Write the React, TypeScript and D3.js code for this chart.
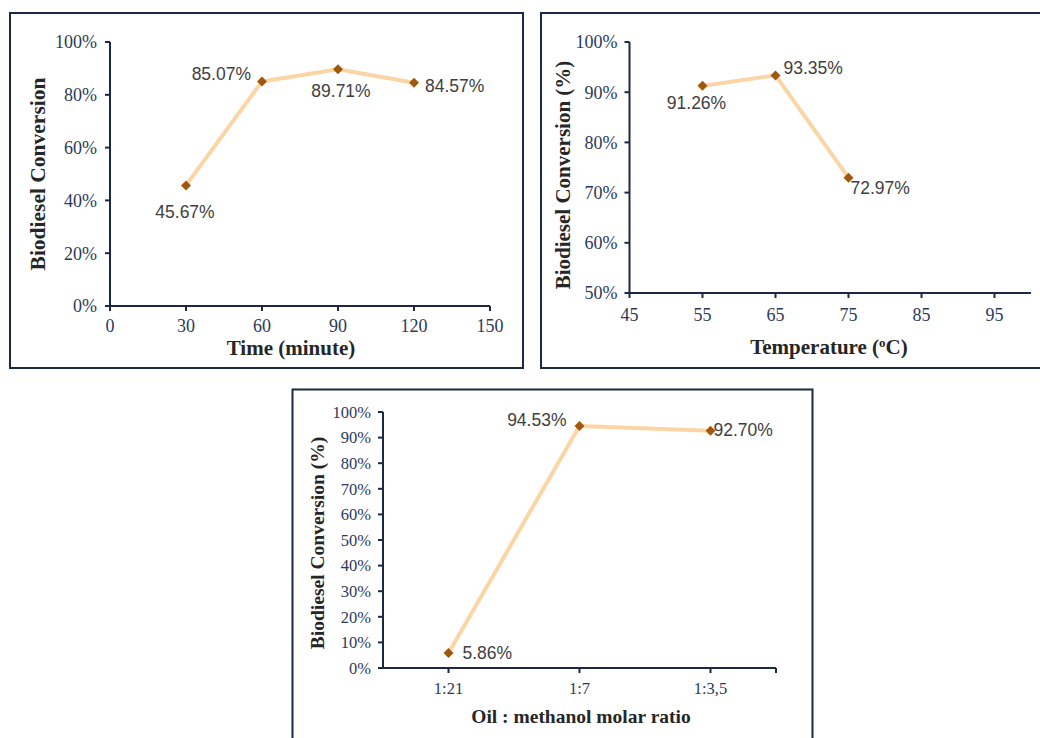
import React from "react";
import * as d3 from "d3";

// ---- Data ----
const timeX = [30, 60, 90, 120];
const timeY = [0.4567, 0.8507, 0.8971, 0.8457];
const timeLabels = ["45.67%", "85.07%", "89.71%", "84.57%"];
const timeTicks = [0, 30, 60, 90, 120, 150];
const timeYTicks = [0, 0.2, 0.4, 0.6, 0.8, 1.0];

const tempX = [55, 65, 75];
const tempY = [0.9126, 0.9335, 0.7297];
const tempLabels = ["91.26%", "93.35%", "72.97%"];
const tempTicks = [45, 55, 65, 75, 85, 95];
const tempYTicks = [0.5, 0.6, 0.7, 0.8, 0.9, 1.0];

const ratioCats = ["1:21", "1:7", "1:3,5"];
const ratioY = [0.0586, 0.9453, 0.927];
const ratioLabels = ["5.86%", "94.53%", "92.70%"];
const ratioYTicks = [0, 0.1, 0.2, 0.3, 0.4, 0.5, 0.6, 0.7, 0.8, 0.9, 1.0];

// ---- label placement (style, not data) ----
const timeLabelPos = [
  { anchor: "middle", dx: -1, dy: 33 },
  { anchor: "end", dx: -11, dy: -1 },
  { anchor: "middle", dx: 3, dy: 28 },
  { anchor: "start", dx: 11, dy: 9 },
];
const tempLabelPos = [
  { anchor: "middle", dx: -6, dy: 23 },
  { anchor: "start", dx: 8, dy: -1 },
  { anchor: "start", dx: 2, dy: 16 },
];
const ratioLabelPos = [
  { anchor: "start", dx: 14, dy: 6 },
  { anchor: "end", dx: -13, dy: 0 },
  { anchor: "start", dx: 3, dy: 5 },
];

const AXIS = "#1b2947";
const TICKTXT = "#2b3a58";
const TITLE = "#262626";
const LINE = "#fbd5a5";
const MARK = "#a2580c";
const SERIF = "'Liberation Serif', 'Times New Roman', serif";
const SANS = "'Liberation Sans', Arial, sans-serif";
const pct = d3.format(".0%");

type LP = { anchor: string; dx: number; dy: number };

function Diamond({ x, y }: { x: number; y: number }) {
  const s = 5;
  return (
    <path
      d={`M${x},${y - s}L${x + s},${y}L${x},${y + s}L${x - s},${y}Z`}
      fill={MARK}
    />
  );
}

function Series({
  pts,
  labels,
  pos,
  fontSize,
}: {
  pts: [number, number][];
  labels: string[];
  pos: LP[];
  fontSize: number;
}) {
  const line = d3.line<[number, number]>().x((d) => d[0]).y((d) => d[1]);
  return (
    <g>
      <path d={line(pts) || ""} fill="none" stroke={LINE} strokeWidth={4} strokeLinejoin="round" />
      {pts.map((p, i) => (
        <Diamond key={"m" + i} x={p[0]} y={p[1]} />
      ))}
      {pts.map((p, i) => (
        <text
          key={"l" + i}
          x={p[0] + pos[i].dx}
          y={p[1] + pos[i].dy}
          textAnchor={pos[i].anchor as any}
          fontFamily={SANS}
          fontSize={fontSize}
          fill="#404040"
        >
          {labels[i]}
        </text>
      ))}
    </g>
  );
}

function YAxis({
  y,
  ticks,
  x0,
  fontSize,
  labelGap,
}: {
  y: d3.ScaleLinear<number, number>;
  ticks: number[];
  x0: number;
  fontSize: number;
  labelGap: number;
}) {
  const [r0, r1] = y.range();
  return (
    <g>
      <line x1={x0} x2={x0} y1={r0 + 1} y2={r1} stroke={AXIS} strokeWidth={2} />
      {ticks.map((t) => (
        <g key={t}>
          <line x1={x0 - 5} x2={x0} y1={y(t)} y2={y(t)} stroke={AXIS} strokeWidth={2} />
          <text
            x={x0 - labelGap}
            y={y(t)}
            dy="0.35em"
            textAnchor="end"
            fontFamily={SERIF}
            fontSize={fontSize}
            fill={TICKTXT}
          >
            {pct(t)}
          </text>
        </g>
      ))}
    </g>
  );
}

function XAxisLine({
  x0,
  x1,
  y0,
  tickXs,
  labels,
  labelY,
  fontSize,
}: {
  x0: number;
  x1: number;
  y0: number;
  tickXs: number[];
  labels: { x: number; t: string }[];
  labelY: number;
  fontSize: number;
}) {
  return (
    <g>
      <line x1={x0 - 1} x2={x1} y1={y0} y2={y0} stroke={AXIS} strokeWidth={2} />
      {tickXs.map((tx, i) => (
        <line key={i} x1={tx} x2={tx} y1={y0} y2={y0 + 5} stroke={AXIS} strokeWidth={2} />
      ))}
      {labels.map((l, i) => (
        <text
          key={i}
          x={l.x}
          y={labelY}
          textAnchor="middle"
          fontFamily={SERIF}
          fontSize={fontSize}
          fill={TICKTXT}
        >
          {l.t}
        </text>
      ))}
    </g>
  );
}

function YTitle({ x, y, text, fontSize }: { x: number; y: number; text: string; fontSize: number }) {
  return (
    <text
      transform={`translate(${x},${y}) rotate(-90)`}
      dy="0.35em"
      textAnchor="middle"
      fontFamily={SERIF}
      fontWeight="bold"
      fontSize={fontSize}
      fill={TITLE}
    >
      {text}
    </text>
  );
}

export default function App() {
  // Panel 1: time
  const x1 = d3.scaleLinear().domain([0, 150]).range([110, 490]);
  const y1 = d3.scaleLinear().domain([0, 1]).range([306, 42]);
  const p1: [number, number][] = timeX.map((d, i) => [x1(d), y1(timeY[i])]);

  // Panel 2: temperature
  const x2 = d3.scaleLinear().domain([45, 100]).range([629.5, 1031]);
  const y2 = d3.scaleLinear().domain([0.5, 1]).range([293, 42]);
  const p2: [number, number][] = tempX.map((d, i) => [x2(d), y2(tempY[i])]);

  // Panel 3: molar ratio
  const x3 = d3.scalePoint<string>().domain(ratioCats).range([383, 776]).padding(0.5);
  const y3 = d3.scaleLinear().domain([0, 1]).range([668, 412]);
  const p3: [number, number][] = ratioCats.map((c, i) => [x3(c) as number, y3(ratioY[i])]);

  return (
    <svg
      width={1040}
      height={738}
      style={{ position: "absolute", left: 0, top: 0, background: "#fff" }}
    >
      <rect x={0} y={0} width={1040} height={738} fill="#fff" />
      {/* Panel borders */}
      <rect x={10} y={13} width={513} height={355} fill="none" stroke={AXIS} strokeWidth={2} />
      <rect x={541} y={13} width={520} height={355} fill="none" stroke={AXIS} strokeWidth={2} />
      <rect x={292.5} y={389.5} width={520} height={360} fill="none" stroke={AXIS} strokeWidth={2} />

      {/* Panel 1 */}
      <YAxis y={y1} ticks={timeYTicks} x0={x1(0)} fontSize={18} labelGap={13} />
      <XAxisLine
        x0={x1(0)}
        x1={x1(150)}
        y0={y1(0)}
        tickXs={timeTicks.map((t) => x1(t))}
        labels={timeTicks.map((t) => ({ x: x1(t), t: String(t) }))}
        labelY={332}
        fontSize={18}
      />
      <Series pts={p1} labels={timeLabels} pos={timeLabelPos} fontSize={17.5} />
      <YTitle x={37.5} y={174} text="Biodiesel Conversion" fontSize={21.5} />
      <text x={291} y={355} textAnchor="middle" fontFamily={SERIF} fontWeight="bold" fontSize={21} fill={TITLE}>
        Time (minute)
      </text>

      {/* Panel 2 */}
      <YAxis y={y2} ticks={tempYTicks} x0={x2(45)} fontSize={18} labelGap={12} />
      <XAxisLine
        x0={x2(45)}
        x1={x2(100)}
        y0={y2(0.5)}
        tickXs={tempTicks.map((t) => x2(t))}
        labels={tempTicks.map((t) => ({ x: x2(t), t: String(t) }))}
        labelY={321}
        fontSize={18}
      />
      <Series pts={p2} labels={tempLabels} pos={tempLabelPos} fontSize={17.5} />
      <YTitle x={562.5} y={175} text="Biodiesel Conversion (%)" fontSize={21} />
      <text x={829} y={354} textAnchor="middle" fontFamily={SERIF} fontWeight="bold" fontSize={21} fill={TITLE}>
        Temperature (<tspan dy={-7} fontSize={13}>o</tspan>
        <tspan dy={7}>C)</tspan>
      </text>

      {/* Panel 3 */}
      <YAxis y={y3} ticks={ratioYTicks} x0={383} fontSize={16.5} labelGap={12} />
      <XAxisLine
        x0={383}
        x1={776}
        y0={y3(0)}
        tickXs={ratioCats.map((c) => x3(c) as number).concat([776])}
        labels={ratioCats.map((c) => ({ x: x3(c) as number, t: c }))}
        labelY={694}
        fontSize={16.5}
      />
      <Series pts={p3} labels={ratioLabels} pos={ratioLabelPos} fontSize={17.5} />
      <YTitle x={317} y={543} text="Biodiesel Conversion (%)" fontSize={19.5} />
      <text x={581} y={723} textAnchor="middle" fontFamily={SERIF} fontWeight="bold" fontSize={19.5} fill={TITLE}>
        Oil : methanol molar ratio
      </text>
    </svg>
  );
}
